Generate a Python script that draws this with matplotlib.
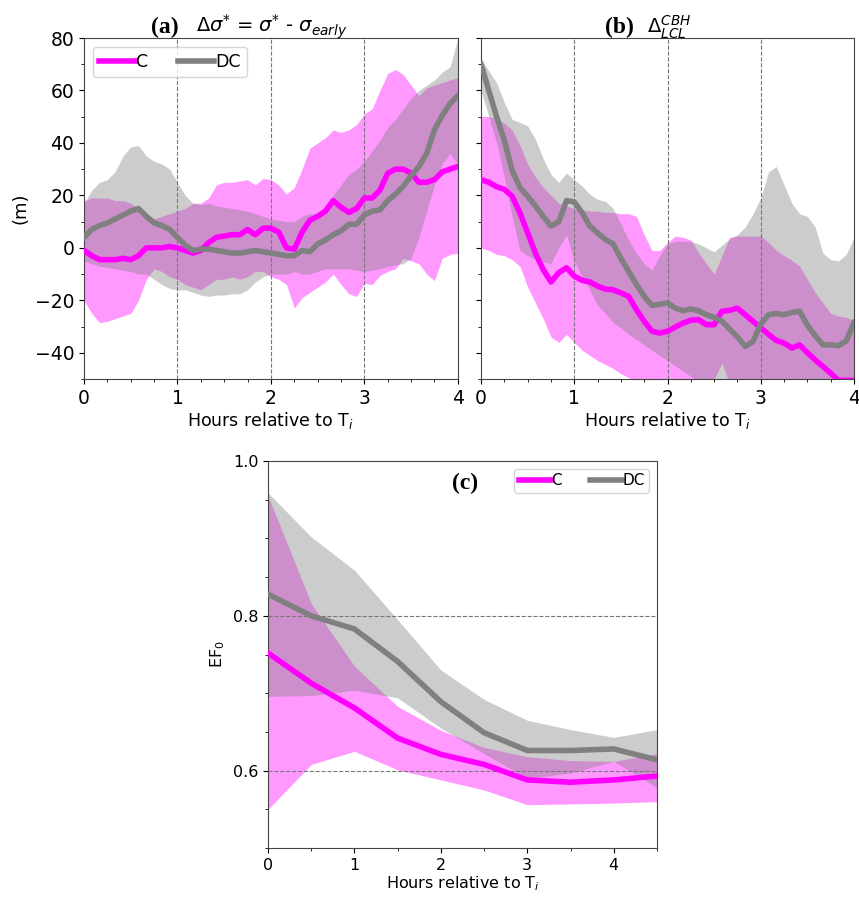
import numpy as np
import matplotlib
matplotlib.use("Agg")
import matplotlib.pyplot as plt
from matplotlib.ticker import MultipleLocator

# time axis (hours relative to T_i), 5-minute steps for (a) and (b)
t = np.linspace(0, 4, 49)
tc = [0, 0.5, 1, 1.5, 2, 2.5, 3, 3.5, 4, 4.5]

# (a) delta sigma*
a_c = [-1, -3, -4.5, -4.5, -4.5, -4, -4.5, -3, 0, 0, 0, 0.5, 0, -1, -2, -1, 2, 4, 4.5, 5,
       5, 7, 5, 7.5, 7.5, 6, 0, -0.5, 6, 10.5, 12, 14, 18, 15.5, 13.5, 15, 19, 19, 22, 28.5,
       30, 30, 28.5, 25, 25, 26, 29, 30, 31]
a_c_up = [18, 19, 19, 19, 18, 18, 17, 15, 13, 11, 12, 13, 14, 15, 17, 17, 19, 24, 25, 25,
          25.5, 26, 24, 26.5, 26, 24, 20.5, 23, 30, 38, 40, 42, 45, 44, 45, 47, 51, 53, 60, 66.5,
          68, 66, 62, 58, 61, 62, 63, 64, 65]
a_c_lo = [-20, -25, -28.5, -28, -27, -26, -25, -20, -12, -8, -9, -11, -12, -14, -15, -16, -14, -12, -12, -11,
          -12, -11, -9, -9, -11, -12, -14, -23, -19, -17, -15, -13, -10, -14, -17.5, -18.5, -13.5, -14, -10.5, -9,
          -8, -4, -5, -6, -10, -12.5, -4, -2.5, -2]
a_dc = [4, 7, 8.5, 9.5, 11, 12.5, 14, 15, 12, 9.5, 8.5, 7, 4, 1, -1, -0.5, -0.5, -1, -1.5, -2,
        -2, -1.5, -1, -1.5, -2, -2.5, -3, -3, -1, -1.5, 1.5, 3, 5, 6.5, 9, 9, 12.5, 14, 14.5, 18,
        20.5, 23.5, 27.5, 31, 36, 45, 50.5, 55, 58]
a_dc_up = [17, 22, 25, 26, 29, 35, 38.5, 39, 35, 33, 32, 30, 25, 20, 17, 16.5, 17, 16, 15.5, 15,
           14.5, 14, 13, 12, 11, 10.5, 10, 10, 12, 13, 13, 16, 20, 24, 28, 30, 33, 37, 41, 46,
           49, 53, 57, 60, 62, 64, 67, 69, 80]
a_dc_lo = [-5, -6, -7, -7.5, -8, -8.5, -9, -10, -10, -12, -14, -15.5, -16, -16, -17, -18, -18.5, -18, -18, -17.5,
           -17.5, -16, -13, -11, -10, -10, -10, -9, -10, -10, -9, -8, -8, -8, -8, -8.5, -9, -8.5, -8, -7,
           -6.5, -6, -4, 4, 14, 24, 32, 36, 32]

# (b) CBH - LCL
b_c = [26, 25, 23.3, 22.3, 19.7, 13.4, 5.7, -2, -8.3, -13, -9.5, -7.6, -10.8, -12.4, -13, -14.6, -15.7, -16, -17.2, -18.5,
       -23.6, -28, -31.8, -32.5, -31.8, -30.2, -28.7, -27.6, -27.4, -29.3, -29.3, -24.2, -23.8, -23, -25.5, -28, -30.5, -33, -35.3, -36.3,
       -38.2, -37, -40, -42.7, -45.2, -47.8, -50.5, -50.5, -50.5]
b_c_up = [50.3, 50, 49.3, 47.5, 45, 39, 32, 27, 23, 20, 17, 16, 15, 14.5, 14, 14, 13.5, 13.5, 13, 13,
          12, 5, -1, -1, 2, 4.5, 4, 3, -2, -6, -10, -3, 4, 4.5, 4.5, 4.5, 4.5, 2, -1, -3,
          -4.7, -7, -12, -17, -21, -25, -26, -26.5, -27.7]
b_c_lo = [0, -1, -2.5, -3, -4.5, -7, -15, -21, -27, -34, -36, -33, -36, -39, -41, -43, -44.5, -46, -48, -49.5,
          -51, -55, -55, -55, -55, -55, -55, -55, -55, -55, -50, -44, -52, -55, -55, -55, -55, -55, -55, -55,
          -55, -55, -55, -55, -55, -55, -55, -55, -55]
b_dc = [70, 60, 50, 41, 29.5, 23, 19.7, 16, 12, 8.3, 10, 18, 17.5, 13.4, 8.3, 5.7, 3.2, 1.5, -4, -9,
        -14, -18.5, -22, -21.5, -21, -23, -24, -23.3, -24, -25.5, -26.5, -28, -31, -34, -37.6, -35.7, -29, -25.5, -25, -25.5,
        -24.6, -24.2, -29.5, -33.5, -37, -37, -37.3, -35.5, -28.5]
b_dc_up = [72, 67.5, 63, 55.4, 49, 47.8, 46.5, 41.4, 34, 28, 25, 28.5, 26, 23.6, 20.4, 18.5, 17.8, 15, 9, 3,
           -2, -6, -8.5, -3, 1.5, 2.5, 2.5, 2.5, 1.5, 0, -1.5, 1, 3.5, 5, 8, 13, 19, 29, 31, 24,
           17, 13, 12, 8, -2, -4.5, -5, -2.5, 4]
b_dc_lo = [60, 50, 40, 27, 12, -1, -3, -4.5, -5.5, -6, 0, 5, -5, -11, -16, -22, -25, -28.5, -30.5, -33,
           -35, -37, -39, -41, -43, -45, -47, -49, -51, -52, -55, -55, -55, -55, -55, -55, -55, -55, -55, -55,
           -55, -55, -55, -55, -55, -55, -55, -55, -55]

# (c) EF0
c_c = [0.752, 0.713, 0.681, 0.642, 0.621, 0.608, 0.588, 0.585, 0.588, 0.593]
c_c_up = [0.955, 0.816, 0.735, 0.683, 0.652, 0.630, 0.618, 0.613, 0.612, 0.622]
c_c_lo = [0.550, 0.608, 0.625, 0.601, 0.588, 0.575, 0.556, 0.557, 0.558, 0.560]
c_dc = [0.828, 0.800, 0.783, 0.741, 0.689, 0.649, 0.626, 0.626, 0.628, 0.614]
c_dc_up = [0.959, 0.902, 0.859, 0.795, 0.730, 0.692, 0.665, 0.653, 0.643, 0.653]
c_dc_lo = [0.696, 0.697, 0.704, 0.694, 0.655, 0.622, 0.590, 0.597, 0.612, 0.578]

MAG = "#ff00ff"
GRY = "#808080"

fig = plt.figure(figsize=(8.59, 8.97), dpi=100)
ax_a = fig.add_axes([0.0978, 0.5775, 0.4352, 0.3801])
ax_b = fig.add_axes([0.5600, 0.5775, 0.4342, 0.3801])
ax_c = fig.add_axes([0.3120, 0.0546, 0.4528, 0.4314])


def draw(ax, x, c, c_up, c_lo, dc, dc_up, dc_lo):
    ax.fill_between(x, c_lo, c_up, color=MAG, alpha=0.4, lw=0)
    ax.fill_between(x, dc_lo, dc_up, color=GRY, alpha=0.4, lw=0)
    ax.plot(x, c, color=MAG, lw=4, label="C", zorder=4)
    ax.plot(x, dc, color=GRY, lw=4, label="DC", zorder=4)


for ax, data in [(ax_a, (a_c, a_c_up, a_c_lo, a_dc, a_dc_up, a_dc_lo)),
                 (ax_b, (b_c, b_c_up, b_c_lo, b_dc, b_dc_up, b_dc_lo))]:
    draw(ax, t, *data)
    for xv in [1, 2, 3]:
        ax.axvline(xv, color="#777777", ls="--", lw=0.8, zorder=3)
    ax.set_xlim(0, 4)
    ax.set_ylim(-50, 80)
    ax.xaxis.set_major_locator(MultipleLocator(1))
    ax.xaxis.set_minor_locator(MultipleLocator(0.25))
    ax.yaxis.set_major_locator(MultipleLocator(20))
    ax.yaxis.set_minor_locator(MultipleLocator(10))
    ax.tick_params(labelsize=13.5)
    ax.set_xlabel("Hours relative to T$_i$", fontsize=12.5, labelpad=2)

ax_b.tick_params(axis="y", labelleft=False)
ax_a.set_ylabel("(m)", fontsize=13)
ax_a.legend(loc="upper left", ncol=2, fontsize=12.5, handlelength=2.1,
            handletextpad=0.05, columnspacing=1.7, borderpad=0.35)

ax_a.text(0.18, 1.015, "(a)", transform=ax_a.transAxes, fontsize=17,
          fontweight="bold", family="Liberation Serif", va="baseline")
ax_a.text(0.30, 1.015, r"$\Delta\sigma^{*}$ = $\sigma^{*}$ - $\sigma_{early}$",
          transform=ax_a.transAxes, fontsize=14, va="baseline")
ax_b.text(0.332, 1.015, "(b)", transform=ax_b.transAxes, fontsize=17,
          fontweight="bold", family="Liberation Serif", va="baseline")
ax_b.text(0.445, 1.015, r"$\Delta_{LCL}^{CBH}$", transform=ax_b.transAxes,
          fontsize=14, va="baseline")

# (c)
draw(ax_c, tc, c_c, c_c_up, c_c_lo, c_dc, c_dc_up, c_dc_lo)
for yv in [0.6, 0.8]:
    ax_c.axhline(yv, color="#777777", ls="--", lw=0.8, zorder=3)
ax_c.set_xlim(0, 4.5)
ax_c.set_ylim(0.5, 1.0)
ax_c.xaxis.set_major_locator(MultipleLocator(1))
ax_c.xaxis.set_minor_locator(MultipleLocator(0.5))
ax_c.yaxis.set_major_locator(MultipleLocator(0.2))
ax_c.yaxis.set_minor_locator(MultipleLocator(0.05))
ax_c.tick_params(labelsize=11.5)
ax_c.set_xlabel("Hours relative to T$_i$", fontsize=11.5, labelpad=1)
ax_c.set_ylabel("EF$_0$", fontsize=11.5)
ax_c.legend(loc="upper right", ncol=2, fontsize=11, handlelength=2.1,
            handletextpad=0.05, columnspacing=1.8, borderpad=0.3)
ax_c.text(0.506, 0.943, "(c)", transform=ax_c.transAxes, fontsize=17,
          fontweight="bold", family="Liberation Serif", ha="center", va="center")

for ax in [ax_a, ax_b, ax_c]:
    for s in ax.spines.values():
        s.set_color("#444444")

fig.savefig("out.png", dpi=100)
